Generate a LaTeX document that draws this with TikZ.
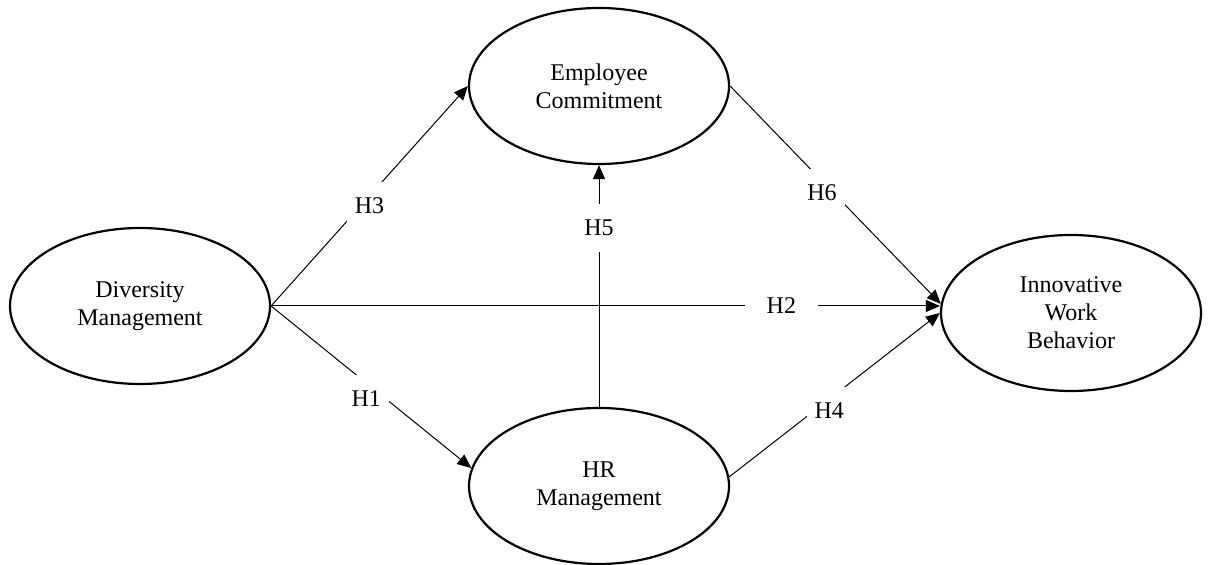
\documentclass[tikz,border=0pt]{standalone}
\usepackage{fontspec}
\setmainfont{Liberation Serif}
\usetikzlibrary{shapes.geometric,arrows.meta}
\begin{document}
\begin{tikzpicture}[x=0.5pt,y=0.5pt,
        var/.style={ellipse,draw=black,line width=1.1pt,
          inner sep=0pt,minimum width=130pt,minimum height=78pt,
          align=center,font=\fontsize{12}{14}\selectfont},
        link/.style={-{Triangle[length=7pt,width=6pt]},line width=0.5pt},
        hyp/.style={fill=white,inner xsep=4pt,inner ysep=8pt,
          font=\fontsize{12}{14}\selectfont}]
      \useasboundingbox (0,0) rectangle (1209,565);
      \node (dm)  at ( 140,259) [var] {Diversity\\Management};
      \node (ec)  at ( 599,479) [var] {Employee\\Commitment};
      \node (hr)  at ( 599, 79) [var] {HR\\Management};
      \node (iwb) at (1071,252) [var] {Innovative\\Work\\Behavior};
      \coordinate (h2end) at (dm.east -| iwb.west);
      \draw (dm.east) edge[link] node[hyp,pos=.5,yshift=-5pt] {H3} (ec.west);
      \draw (dm.east) edge[link] node[hyp,pos=.475,yshift=-8pt] {H1} (hr.172);
      \draw (dm.east) edge[link] node[hyp,pos=.763,inner xsep=11pt] {H2} (h2end);
      \draw (hr.north) edge[link] node[hyp,pos=.74] {H5} (ec.south);
      \draw (ec.east) edge[link] node[hyp,pos=.436,yshift=-6pt] {H6} (iwb.176);
      \draw (hr.4) edge[link] node[hyp,pos=.475,yshift=-6pt] {H4} (iwb.west);
\end{tikzpicture}
\end{document}
